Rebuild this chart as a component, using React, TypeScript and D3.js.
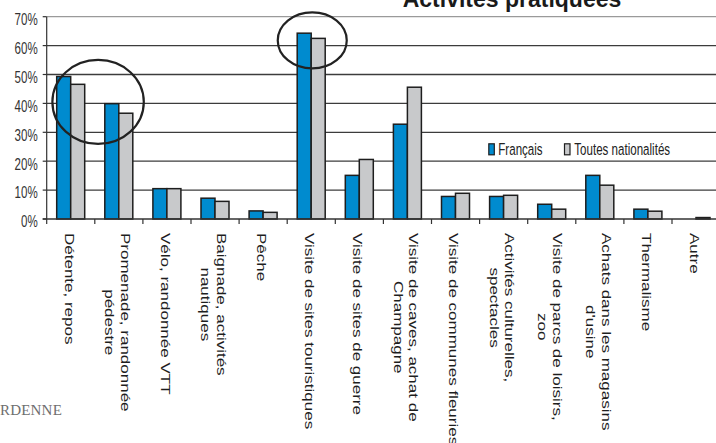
import React, { useEffect, useRef } from "react";
import * as d3 from "d3";

const categories: string[] = [
  "Détente, repos",
  "Promenade, randonnée\npédestre",
  "Vélo, randonnée VTT",
  "Baignade, activités\nnautiques",
  "Pêche",
  "Visite de sites touristiques",
  "Visite de sites de guerre",
  "Visite de caves, achat de\nChampagne",
  "Visite de communes fleuries",
  "Activités culturelles,\nspectacles",
  "Visite de parcs de loisirs,\nzoo",
  "Achats dans les magasins\nd'usine",
  "Thermalisme",
  "Autre",
];
const francais: number[] = [49.3, 39.9, 10.5, 7.2, 2.8, 64.3, 15.1, 32.8, 7.8, 7.8, 5.1, 15.1, 3.4, 0];
const toutesNationalites: number[] = [46.6, 36.6, 10.5, 6.1, 2.3, 62.5, 20.6, 45.6, 8.9, 8.2, 3.4, 11.7, 2.7, 0.5];
const seriesNames: string[] = ["Français", "Toutes nationalités"];
const seriesColors: string[] = ["#008bcf", "#c8c9cb"];
const yTickValues: number[] = [0, 10, 20, 30, 40, 50, 60, 70];
const title = "Activités pratiquées";

const W = 716;
const H = 443;
const SQ = 0.71; // horizontal squeeze of the original picture
const FONT = "Arial, 'Liberation Sans', sans-serif";

export default function App() {
  const ref = useRef<SVGSVGElement | null>(null);

  useEffect(() => {
    const svg = d3.select(ref.current);
    svg.selectAll("*").remove();

    const x0 = 46.7;
    const bandW = 48.1;
    const x = d3
      .scaleBand<string>()
      .domain(categories)
      .range([x0, x0 + bandW * categories.length])
      .paddingInner(0)
      .paddingOuter(0);
    const xs = d3.scaleBand<string>().domain(seriesNames).range([10, 38]).padding(0);
    const y = d3.scaleLinear().domain([0, 70]).range([219, 16.7]);

    // gridlines
    svg
      .append("g")
      .selectAll("line")
      .data(yTickValues.filter((d) => d > 0))
      .join("line")
      .attr("x1", x0)
      .attr("x2", W)
      .attr("y1", (d) => y(d))
      .attr("y2", (d) => y(d))
      .attr("stroke", (d) => (d === 70 ? "#9a9a9a" : "#3c3c3c"))
      .attr("stroke-width", (d) => (d === 50 ? 1.6 : 1.2));

    // y axis
    svg
      .append("line")
      .attr("x1", x0)
      .attr("x2", x0)
      .attr("y1", y(70))
      .attr("y2", y(0))
      .attr("stroke", "#333")
      .attr("stroke-width", 1.2);
    svg
      .append("g")
      .selectAll("line")
      .data(yTickValues)
      .join("line")
      .attr("x1", x0 - 4)
      .attr("x2", x0)
      .attr("y1", (d) => y(d))
      .attr("y2", (d) => y(d))
      .attr("stroke", "#333")
      .attr("stroke-width", 1.2);
    svg
      .append("g")
      .selectAll("text")
      .data(yTickValues)
      .join("text")
      .attr("transform", (d) => `translate(37.7,${y(d) + 8.3}) scale(${SQ},1)`)
      .attr("text-anchor", "end")
      .attr("font-family", FONT)
      .attr("font-size", 16.3)
      .attr("fill", "#333")
      .text((d) => `${d}%`);

    // bars
    const groups = svg
      .append("g")
      .selectAll("g")
      .data(categories)
      .join("g")
      .attr("transform", (d) => `translate(${x(d)},0)`);
    groups.each(function (c, i) {
      const vals = [francais[i], toutesNationalites[i]];
      d3.select(this)
        .selectAll("rect")
        .data(vals)
        .join("rect")
        .attr("x", (_, j) => xs(seriesNames[j])!)
        .attr("width", xs.bandwidth())
        .attr("y", (v) => y(v))
        .attr("height", (v) => y(0) - y(v))
        .attr("fill", (_, j) => seriesColors[j])
        .attr("stroke", "#1e1e1e")
        .attr("stroke-width", 1.5)
        .attr("display", (v) => (v > 0 ? null : "none"));
    });

    // x axis
    svg
      .append("line")
      .attr("x1", x0 - 4)
      .attr("x2", W)
      .attr("y1", y(0))
      .attr("y2", y(0))
      .attr("stroke", "#333")
      .attr("stroke-width", 1.4);
    svg
      .append("g")
      .selectAll("line")
      .data(d3.range(categories.length + 1))
      .join("line")
      .attr("x1", (i) => x0 + i * x.bandwidth())
      .attr("x2", (i) => x0 + i * x.bandwidth())
      .attr("y1", y(0))
      .attr("y2", y(0) + 5)
      .attr("stroke", "#333")
      .attr("stroke-width", 1.2);

    // category labels (rotated, centered multi-line)
    const lineH = 22;
    categories.forEach((c) => {
      const lines = c.split("\n");
      const cx = x(c)! + x.bandwidth() / 2 - 2;
      const g = svg
        .append("g")
        .attr("transform", `translate(${cx},233) scale(${SQ},1) rotate(90)`);
      const texts = lines.map((ln, i) =>
        g
          .append("text")
          .attr("font-family", FONT)
          .attr("font-size", 17)
          .attr("fill", "#1e1e1e")
          .attr("dominant-baseline", "central")
          .attr("text-anchor", "middle")
          .attr("y", (i - (lines.length - 1) / 2) * lineH)
          .text(ln)
      );
      const maxW = d3.max(texts, (t) => (t.node() as SVGTextElement).getComputedTextLength()) || 0;
      texts.forEach((t) => t.attr("x", maxW / 2));
    });

    // legend
    const legend = [
      { name: seriesNames[0], color: seriesColors[0], sx: 488.8, tx: 498.3 },
      { name: seriesNames[1], color: seriesColors[1], sx: 564.5, tx: 574.3 },
    ];
    legend.forEach((l) => {
      svg
        .append("rect")
        .attr("x", l.sx)
        .attr("y", 143.8)
        .attr("width", 5.5)
        .attr("height", 11)
        .attr("fill", l.color)
        .attr("stroke", "#1e1e1e")
        .attr("stroke-width", 1.2);
      svg
        .append("text")
        .attr("transform", `translate(${l.tx},155) scale(${SQ},1)`)
        .attr("font-family", FONT)
        .attr("font-size", 16.3)
        .attr("fill", "#222")
        .text(l.name);
    });

    // title
    svg
      .append("text")
      .attr("x", 512)
      .attr("y", 7.3)
      .attr("text-anchor", "middle")
      .attr("font-family", FONT)
      .attr("font-weight", "bold")
      .attr("font-size", 23)
      .attr("fill", "#1a1a1a")
      .text(title);

    // annotation ellipses
    svg
      .append("ellipse")
      .attr("cx", x(categories[1])! + 3.3)
      .attr("cy", y(40.5))
      .attr("rx", 45.7)
      .attr("ry", 42)
      .attr("fill", "none")
      .attr("stroke", "#222")
      .attr("stroke-width", 2.2);
    svg
      .append("ellipse")
      .attr("cx", x(categories[5])! + x.bandwidth() / 2 + 1)
      .attr("cy", y(61.8))
      .attr("rx", 34.5)
      .attr("ry", 28)
      .attr("fill", "none")
      .attr("stroke", "#222")
      .attr("stroke-width", 2.2);

    // logo fragment
    svg
      .append("text")
      .attr("x", 62)
      .attr("y", 415)
      .attr("text-anchor", "end")
      .attr("font-family", "'Liberation Serif', 'DejaVu Serif', serif")
      .attr("font-size", 15)
      .attr("fill", "#6e6e6e")
      .attr("letter-spacing", 0.2)
      .text("ARDENNE");
  }, []);

  return (
    <svg
      ref={ref}
      width={W}
      height={H}
      style={{ position: "absolute", left: 0, top: 0, background: "#fff", overflow: "hidden" }}
    />
  );
}
